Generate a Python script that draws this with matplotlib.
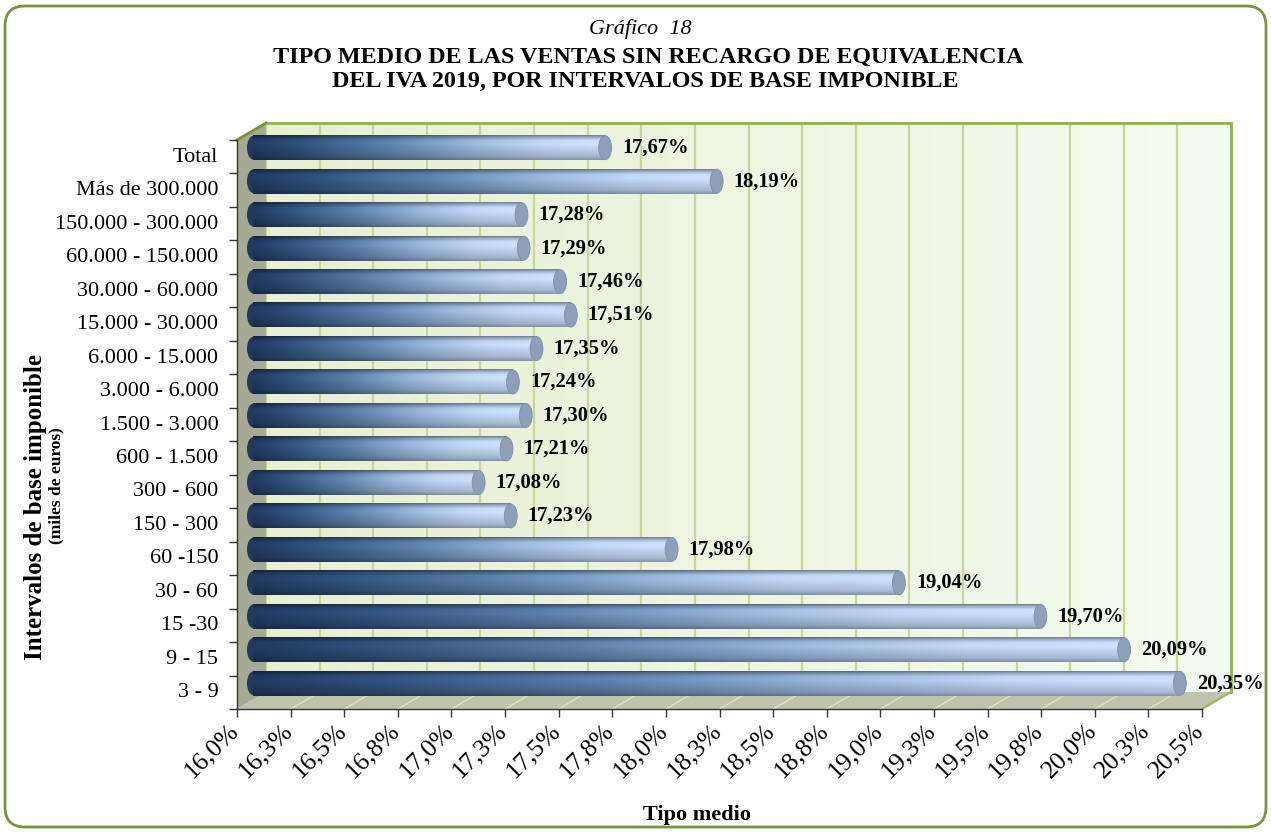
import numpy as np
import matplotlib
matplotlib.use("Agg")
import matplotlib.pyplot as plt
from matplotlib import transforms as mtrans
from matplotlib.patches import Polygon, Ellipse, FancyBboxPatch
from matplotlib.colors import to_rgb

# ---------------- data ----------------
categories = ["Total", "Más de 300.000", "150.000 - 300.000", "60.000 - 150.000",
              "30.000 - 60.000", "15.000 - 30.000", "6.000 - 15.000", "3.000 - 6.000",
              "1.500 - 3.000", "600 - 1.500", "300 - 600", "150 - 300", "60 -150",
              "30 - 60", "15 -30", "9 - 15", "3 - 9"]
values = [17.67, 18.19, 17.28, 17.29, 17.46, 17.51, 17.35, 17.24, 17.30, 17.21,
          17.08, 17.23, 17.98, 19.04, 19.70, 20.09, 20.35]
x_ticks = [16.0, 16.25, 16.5, 16.75, 17.0, 17.25, 17.5, 17.75, 18.0, 18.25, 18.5,
           18.75, 19.0, 19.25, 19.5, 19.75, 20.0, 20.25, 20.5]
x_tick_labels = ["16,0%", "16,3%", "16,5%", "16,8%", "17,0%", "17,3%", "17,5%", "17,8%",
                 "18,0%", "18,3%", "18,5%", "18,8%", "19,0%", "19,3%", "19,5%", "19,8%",
                 "20,0%", "20,3%", "20,5%"]
x_min, x_max = 16.0, 20.5

title_top = "Gráfico  18"
title_1 = "TIPO MEDIO DE LAS VENTAS SIN RECARGO DE EQUIVALENCIA"
title_2 = "DEL IVA 2019, POR INTERVALOS DE BASE IMPONIBLE"
y_label = "Intervalos de base imponible"
y_sublabel = "(miles de euros)"
x_label = "Tipo medio"

# ---------------- styling ----------------
SERIF = ["Liberation Serif", "DejaVu Serif"]
plt.rcParams["font.family"] = SERIF
W, H = 1271, 832
DPI = 100
DX, DY = 29, 17           # depth of 3-D box, px
BAR_DX, BAR_DY = 10, 9    # bar offset inside depth, px
BAR_H = 0.74
CAP_W = 0.06

fig = plt.figure(figsize=(W / DPI, H / DPI), dpi=DPI)
fig.patch.set_facecolor("white")

# rounded border
border = FancyBboxPatch((0.05, 0.05), W / DPI - 0.10, H / DPI - 0.11,
                        boxstyle="round,pad=0,rounding_size=0.2",
                        transform=fig.dpi_scale_trans, fc="white", ec="#77933C",
                        lw=2.0, zorder=0)
fig.patches.append(border)

ax_l, ax_b, ax_w, ax_h = 237 / W, (H - 709) / H, 965 / W, 569 / H

# back wall axes
bw = fig.add_axes([ax_l + DX / W, ax_b + DY / H, ax_w, ax_h], zorder=1)
grad = np.linspace(0, 1, 256)[None, :, None]
c0 = np.array(to_rgb("#E8EFD2"))
c1 = np.array(to_rgb("#F4FCF1"))
bw.imshow(c0 + (c1 - c0) * grad, extent=[0, 1, 0, 1], transform=bw.transAxes,
          aspect="auto", zorder=0)
bw.set_xlim(x_min, x_max)
bw.set_ylim(0, 1)
bw.set_xticks(x_ticks)
bw.set_yticks([])
bw.grid(axis="x", color="#C4D89A", lw=1.6)
bw.tick_params(length=0, labelbottom=False)
for s in ["left", "bottom"]:
    bw.spines[s].set_visible(False)
for s in ["top", "right"]:
    bw.spines[s].set_color("#8FB04F")
    bw.spines[s].set_linewidth(2.0)

# main axes
ax = fig.add_axes([ax_l, ax_b, ax_w, ax_h], zorder=2)
ax.patch.set_alpha(0)
ax.set_autoscale_on(False)
n = len(categories)
ax.set_xlim(x_min, x_max)
ax.set_ylim(n - 0.5, -0.5)

dx, dy = DX / 965, DY / 569
# floor
floor = Polygon([(0, 0), (1, 0), (1 + dx, dy), (dx, dy)], closed=True,
                transform=ax.transAxes, fc="#BFC3AE", ec="none", zorder=0.5, clip_on=False)
ax.add_patch(floor)
for t in x_ticks[1:-1]:
    xa = (t - x_min) / (x_max - x_min)
    ax.plot([xa, xa + dx], [0, dy], transform=ax.transAxes, color="#DDE8B0",
            lw=1.0, zorder=0.6, clip_on=False)
ax.plot([1, 1 + dx], [0, dy], transform=ax.transAxes, color="#9BB260", lw=1.5,
        zorder=0.7, clip_on=False)
# left wall
lwall = Polygon([(0, 0), (dx, dy), (dx, 1 + dy), (0, 1)], closed=True,
                transform=ax.transAxes, fc="#A6A993", ec="none", zorder=0.5, clip_on=False)
ax.add_patch(lwall)
ax.plot([0, dx], [1, 1 + dy], transform=ax.transAxes, color="#77933C", lw=2.0,
        zorder=0.7, clip_on=False)

# bars
bar_tr = ax.transData + mtrans.ScaledTranslation(BAR_DX / DPI, BAR_DY / DPI, fig.dpi_scale_trans)
lab_tr = ax.transData + mtrans.ScaledTranslation(27 / DPI, BAR_DY / DPI, fig.dpi_scale_trans)

hstops = [(0.0, "#1E365A"), (0.14, "#2E4C74"), (0.38, "#57789F"),
          (0.62, "#8EA9CB"), (0.82, "#B2C7E2"), (1.0, "#BCD0EA")]
vpos = [0.0, 0.07, 0.2, 0.35, 0.6, 0.85, 1.0]
vfac = [0.62, 0.82, 1.07, 1.10, 1.0, 0.9, 0.72]

def bar_image(nx=240, ny=40):
    xs = np.linspace(0, 1, nx)
    pos = [p for p, _ in hstops]
    cols = np.array([to_rgb(c) for _, c in hstops])
    row = np.stack([np.interp(xs, pos, cols[:, k]) for k in range(3)], axis=-1)
    ys = np.linspace(0, 1, ny)
    f = np.interp(ys, vpos, vfac)[:, None, None]
    return np.clip(row[None, :, :] * f, 0, 1)

img = bar_image()
for i, v in enumerate(values):
    x0 = x_min + CAP_W / 2
    ax.imshow(img, extent=[x0, v, i + BAR_H / 2, i - BAR_H / 2], origin="upper",
              aspect="auto", transform=bar_tr, interpolation="bilinear",
              zorder=3, clip_on=False)
    ax.add_patch(Ellipse((x0, i), CAP_W, BAR_H * 0.96, transform=bar_tr,
                         fc="#22395B", ec="none", zorder=2.9, clip_on=False))
    ax.add_patch(Ellipse((v, i), CAP_W, BAR_H * 0.97, transform=bar_tr,
                         fc="#8E9FBA", ec="#7D8EA9", lw=0.6, zorder=3.2, clip_on=False))
    ax.text(v, i, f"{v:.2f}".replace(".", ",") + "%", transform=lab_tr,
            ha="left", va="center", fontsize=14.8, fontweight="bold",
            color="black", zorder=5, clip_on=False)

# axes / ticks
ax.set_yticks(range(n))
ax.set_yticklabels(categories, fontsize=16)
ax.set_yticks(np.arange(-0.5, n, 1.0), minor=True)
ax.tick_params(axis="y", which="major", length=0, pad=13.5)
ax.tick_params(axis="y", which="minor", length=5.5, width=1, color="#333333", direction="out")
for lab in ax.get_yticklabels():
    lab.set_transform(lab.get_transform() + mtrans.ScaledTranslation(0, 2 / DPI, fig.dpi_scale_trans))
ax.set_xticks(x_ticks)
ax.set_xticklabels(x_tick_labels, fontsize=18.5, rotation=45, ha="right")
ax.tick_params(axis="x", which="major", length=5.5, width=1, color="#333333", pad=2)
shift = mtrans.ScaledTranslation(6 / DPI, 0, fig.dpi_scale_trans)
for lab in ax.get_xticklabels():
    lab.set_transform(lab.get_transform() + shift)
for s in ["top", "right"]:
    ax.spines[s].set_visible(False)
for s in ["left", "bottom"]:
    ax.spines[s].set_color("#333333")
    ax.spines[s].set_linewidth(1.0)
    ax.spines[s].set_zorder(6)

# titles and labels
fig.text(640 / W, 1 - 34 / H, title_top, ha="center", va="baseline", fontsize=16,
         fontstyle="italic")
fig.text(648 / W, 1 - 63 / H, title_1, ha="center", va="baseline", fontsize=17.4,
         fontweight="bold")
fig.text(645 / W, 1 - 87 / H, title_2, ha="center", va="baseline", fontsize=17.4,
         fontweight="bold")
fig.text(36 / W, 1 - 507 / H, y_label, ha="center", va="center", rotation=90,
         fontsize=18, fontweight="bold")
fig.text(56 / W, 1 - 486 / H, y_sublabel, ha="center", va="center", rotation=90,
         fontsize=12.5, fontweight="bold")
fig.text(697 / W, 1 - 815 / H, x_label, ha="center", va="center", fontsize=16,
         fontweight="bold")

fig.savefig("out.png", dpi=DPI)
